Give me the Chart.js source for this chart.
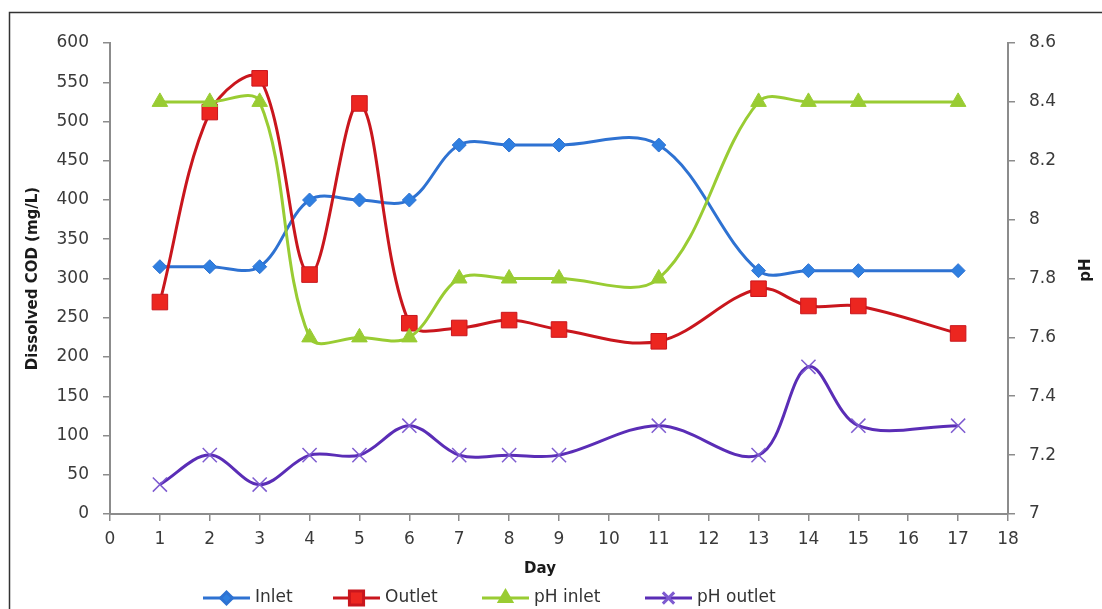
<!DOCTYPE html>
<html>
<head>
<meta charset="utf-8">
<script src="https://cdn.jsdelivr.net/npm/chart.js@4/dist/chart.umd.min.js"></script>
<style>
  html, body { margin: 0; padding: 0; background: #fff; }
  #wrap { width: 1102px; height: 609px; position: relative; }
</style>
</head>
<body>
<div id="wrap"><canvas id="codChart" width="1102" height="609"></canvas></div>
<script>
// days sampled
var days = [1, 2, 3, 4, 5, 6, 7, 8, 9, 11, 13, 14, 15, 17];

// dissolved COD (mg/L), left axis
var inletCod  = [315, 315, 315, 400, 400, 400, 470, 470, 470, 470, 310, 310, 310, 310];
var outletCod = [270, 512, 555, 305, 523, 243, 237, 247, 235, 220, 287, 265, 265, 230];

// pH, right axis
var phInlet  = [8.4, 8.4, 8.4, 7.6, 7.6, 7.6, 7.8, 7.8, 7.8, 7.8, 8.4, 8.4, 8.4, 8.4];
var phOutlet = [7.1, 7.2, 7.1, 7.2, 7.2, 7.3, 7.2, 7.2, 7.2, 7.3, 7.2, 7.5, 7.3, 7.3];

var seriesNames = ["Inlet", "Outlet", "pH inlet", "pH outlet"];
var phTickLabels = ["7", "7.2", "7.4", "7.6", "7.8", "8", "8.2", "8.4", "8.6"];

var tickFont = { family: "DejaVu Sans", size: 17 };
var tickColor = "#3a3a3a";
var axisColor = "#8c8c8c";

function toPoints(vals) {
    return days.map(function (d, i) { return { x: d, y: vals[i] }; });
}

// axis titles, frame and bottom legend drawn by hand
var extrasPlugin = {
    id: "extras",
    afterDraw: function (chart) {
        var ctx = chart.ctx;
        var area = chart.chartArea;
        ctx.save();

        // frame
        ctx.strokeStyle = "#333";
        ctx.lineWidth = 1.5;
        ctx.beginPath();
        ctx.moveTo(9.5, 609);
        ctx.lineTo(9.5, 12.5);
        ctx.lineTo(1102, 12.5);
        ctx.stroke();

        // titles
        ctx.fillStyle = "#1a1a1a";
        ctx.font = "bold 15px 'DejaVu Sans'";
        ctx.textAlign = "center";
        ctx.textBaseline = "middle";
        ctx.save();
        ctx.translate(33, (area.top + area.bottom) / 2);
        ctx.rotate(-Math.PI / 2);
        ctx.fillText("Dissolved COD (mg/L)", 0, 0);
        ctx.restore();
        ctx.save();
        ctx.translate(1086, 270);
        ctx.rotate(-Math.PI / 2);
        ctx.fillText("pH", 0, 0);
        ctx.restore();
        ctx.fillText("Day", 540, 569);

        // legend
        var legendX = [203, 333, 482, 645];
        var legendY = 598;
        ctx.font = "17px 'DejaVu Sans'";
        ctx.textAlign = "left";
        chart.data.datasets.forEach(function (ds, i) {
            var x0 = legendX[i];
            ctx.strokeStyle = ds.borderColor;
            ctx.lineWidth = 3;
            ctx.beginPath();
            ctx.moveTo(x0, legendY);
            ctx.lineTo(x0 + 47, legendY);
            ctx.stroke();
            ctx.fillStyle = ds.pointBackgroundColor;
            ctx.strokeStyle = ds.pointBorderColor;
            Chart.helpers.drawPoint(ctx, {
                pointStyle: ds.pointStyle,
                radius: ds.legendRadius,
                rotation: 0,
                borderWidth: ds.pointBorderWidth
            }, x0 + 23.5, legendY);
            ctx.fillStyle = "#333";
            ctx.fillText(ds.label, x0 + 52, legendY);
        });
        ctx.restore();
    }
};

var ctx = document.getElementById("codChart");
var chart = new Chart(ctx, {
    type: "line",
    data: {
        datasets: [{
            label: seriesNames[0],
            data: toPoints(inletCod),
            yAxisID: "y",
            borderColor: "#2E72D2",
            pointBackgroundColor: "#2F7FE0",
            pointBorderColor: "#2E72D2",
            pointStyle: "rectRot",
            pointRadius: 7,
            legendRadius: 6,
            pointBorderWidth: 1,
            borderWidth: 3,
            order: 4
        }, {
            label: seriesNames[1],
            data: toPoints(outletCod),
            yAxisID: "y",
            borderColor: "#C9161D",
            pointBackgroundColor: "#EC2620",
            pointBorderColor: "#C9161D",
            pointStyle: "rect",
            pointRadius: 11,
            legendRadius: 10,
            pointBorderWidth: 1,
            borderWidth: 3,
            order: 3
        }, {
            label: seriesNames[2],
            data: toPoints(phInlet),
            yAxisID: "y1",
            borderColor: "#99CC33",
            pointBackgroundColor: "#99CC33",
            pointBorderColor: "#99CC33",
            pointStyle: "triangle",
            pointRadius: 9,
            legendRadius: 7,
            pointBorderWidth: 1,
            borderWidth: 3,
            order: 2
        }, {
            label: seriesNames[3],
            data: toPoints(phOutlet),
            yAxisID: "y1",
            borderColor: "#5A2DB6",
            pointBackgroundColor: "#7E5BD0",
            pointBorderColor: "#7E5BD0",
            pointStyle: "crossRot",
            pointRadius: 10,
            legendRadius: 8,
            pointBorderWidth: 1.5,
            borderWidth: 3,
            order: 1
        }]
    },
    options: {
        responsive: false,
        animation: false,
        layout: { padding: { top: 43, left: 0, right: 0, bottom: 0 } },
        elements: { line: { tension: 0.35 } },
        plugins: {
            legend: { display: false },
            tooltip: { enabled: false }
        },
        scales: {
            x: {
                type: "linear",
                min: 0,
                max: 18,
                afterFit: function (s) { s.height = 95; },
                ticks: { stepSize: 1, color: tickColor, font: tickFont, padding: 8 },
                grid: { drawOnChartArea: false, drawTicks: true, tickLength: 7, color: axisColor, lineWidth: 1.5 },
                border: { color: axisColor, width: 2 }
            },
            y: {
                position: "left",
                min: 0,
                max: 600,
                afterFit: function (s) { s.width = 110; },
                ticks: { stepSize: 50, color: tickColor, font: tickFont, padding: 14 },
                grid: { drawOnChartArea: false, drawTicks: true, tickLength: 7, color: axisColor, lineWidth: 1.5 },
                border: { color: axisColor, width: 2 }
            },
            y1: {
                position: "right",
                min: 7,
                max: 8.6,
                afterFit: function (s) { s.width = 94; },
                ticks: {
                    stepSize: 0.2,
                    color: tickColor,
                    font: tickFont,
                    padding: 14,
                    callback: function (v, i) { return phTickLabels[i]; }
                },
                grid: { drawOnChartArea: false, drawTicks: true, tickLength: 7, color: axisColor, lineWidth: 1.5 },
                border: { color: axisColor, width: 2 }
            }
        }
    },
    plugins: [extrasPlugin]
});
</script>
</body>
</html>
